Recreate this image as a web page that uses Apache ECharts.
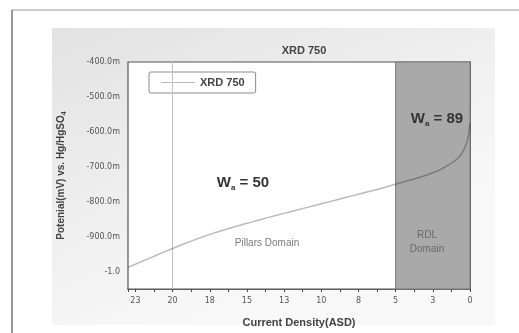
<!DOCTYPE html>
<html>
<head>
<meta charset="utf-8">
<script src="https://cdn.jsdelivr.net/npm/echarts@6/dist/echarts.min.js"></script>
<style>
html,body{margin:0;padding:0;background:#fff;}
#chart{width:519px;height:333px;}
</style>
</head>
<body>
<div id="chart"></div>
<script>
// ---- data ----
const seriesName = 'XRD 750';
const currentDensity = [23, 22, 21, 20, 19, 18, 17, 16, 15, 14, 13, 12, 11, 10, 9, 8, 7, 6, 5, 4, 3, 2.5, 2, 1.5, 1, 0.7, 0.5, 0.3, 0.2, 0.1, 0.05, 0];
const potential = [-988, -970, -952, -934, -917, -901, -887, -874, -862, -850, -839, -828, -817, -806, -795, -784, -773, -762, -750, -738, -725, -717, -708, -696, -682, -670, -658, -640, -627, -610, -596, -575];
const rdlDomain = [5, 0];
const referenceLineX = 20;

const chart = echarts.init(document.getElementById('chart'), null, {renderer: 'canvas'});
const lineData = currentDensity.map((x, i) => [x, potential[i]]);
const font = 'DejaVu Sans';
const lineColor = 'rgba(0,0,0,0.27)';

chart.setOption({
  animation: false,
  backgroundColor: '#ffffff',
  title: {
    text: 'XRD 750',
    left: 299, top: 40, textAlign: 'center',
    textStyle: {fontFamily: 'Liberation Sans', fontSize: 11, fontWeight: 'bold', color: '#444'}
  },
  legend: {
    data: [{name: seriesName, icon: 'rect'}],
    left: 149, top: 72,
    padding: [5, 11, 5, 12],
    itemWidth: 34, itemHeight: 1.2, itemGap: 5,
    backgroundColor: '#ffffff',
    borderColor: '#8a8a8a', borderWidth: 1, borderRadius: 2,
    textStyle: {fontFamily: 'Liberation Sans', fontSize: 11, fontWeight: 'bold', color: '#444'}
  },
  grid: {
    left: 128, right: 49, top: 62, bottom: 44,
    show: true, backgroundColor: '#ffffff', borderColor: '#555', borderWidth: 1.2, z: 1
  },
  graphic: [
    {type: 'rect', z: -10, shape: {x: 52, y: 28, width: 443, height: 297},
     style: {fill: new echarts.graphic.LinearGradient(0, 0, 0.3, 1, [
       {offset: 0, color: '#e2e2e2'}, {offset: 1, color: '#f8f8f8'}])}},
    {type: 'line', z: -5, shape: {x1: 12, y1: 10, x2: 519, y2: 10}, style: {stroke: '#9a9a9a', lineWidth: 1}},
    {type: 'line', z: -5, shape: {x1: 12, y1: 10, x2: 12, y2: 333}, style: {stroke: '#777', lineWidth: 1.5}},
    {type: 'text', z: 100, x: 243, y: 183,
     style: {text: '{b|W}{s|a}{b| = 50}', textAlign: 'center', textVerticalAlign: 'middle',
       rich: {b: {fontFamily: 'Liberation Sans', fontSize: 15, fontWeight: 'bold', fill: '#333', color: '#333'},
              s: {fontFamily: 'Liberation Sans', fontSize: 8, fontWeight: 'bold', fill: '#333', color: '#333', padding: [10, 0, 0, 0]}}}},
    {type: 'text', z: 100, x: 437, y: 119,
     style: {text: '{b|W}{s|a}{b| = 89}', textAlign: 'center', textVerticalAlign: 'middle',
       rich: {b: {fontFamily: 'Liberation Sans', fontSize: 15, fontWeight: 'bold', fill: '#333', color: '#333'},
              s: {fontFamily: 'Liberation Sans', fontSize: 8, fontWeight: 'bold', fill: '#333', color: '#333', padding: [10, 0, 0, 0]}}}},
    {type: 'text', z: 100, x: 267, y: 243,
     style: {text: 'Pillars Domain', textAlign: 'center', textVerticalAlign: 'middle',
       fontFamily: 'Liberation Sans Narrow, Liberation Sans', fontSize: 10, fill: '#7a7a7a'}},
    {type: 'text', z: 100, x: 427, y: 242,
     style: {text: 'RDL\nDomain', textAlign: 'center', textVerticalAlign: 'middle', lineHeight: 14,
       fontFamily: 'Liberation Sans Narrow, Liberation Sans', fontSize: 10, fill: '#6a6a6a'}}
  ],
  xAxis: {
    type: 'value', inverse: true, min: 0, max: 23, interval: 2.5,
    name: 'Current Density(ASD)', nameLocation: 'middle', nameGap: 28,
    nameTextStyle: {fontFamily: 'Liberation Sans', fontSize: 11, fontWeight: 'bold', color: '#444'},
    axisLine: {lineStyle: {color: '#444', width: 1.5}},
    axisTick: {show: true, length: 3, lineStyle: {color: '#444'}},
    minorTick: {show: true, splitNumber: 2, length: 3, lineStyle: {color: '#444'}},
    splitLine: {show: false},
    axisLabel: {showMaxLabel: false, margin: 8, fontFamily: font, fontSize: 8, color: '#555',
      formatter: v => String(Math.round(v))}
  },
  yAxis: {
    type: 'value', min: -1050, max: -400, interval: 50,
    name: 'Potenial(mV) vs. Hg/HgSO{sub|4}', nameLocation: 'middle', nameGap: 60,
    nameTextStyle: {fontFamily: 'Liberation Sans', fontSize: 10, fontWeight: 'bold', color: '#444',
      rich: {sub: {fontFamily: 'Liberation Sans', fontSize: 7, fontWeight: 'bold', color: '#444', padding: [6, 0, 0, 0]}}},
    axisLine: {lineStyle: {color: '#444', width: 1.5}},
    axisTick: {show: true, length: 4, lineStyle: {color: '#444'}},
    splitLine: {show: false},
    axisLabel: {margin: 8, fontFamily: font, fontSize: 8, color: '#555',
      formatter: v => (v % 100 !== 0) ? '' : (v === -1000 ? '-1.0' : v.toFixed(1) + 'm')}
  },
  series: [{
    name: seriesName, type: 'line', data: lineData, smooth: true,
    symbol: 'none', z: 5,
    lineStyle: {color: lineColor, width: 1.5},
    itemStyle: {color: lineColor},
    markArea: {silent: true,
      itemStyle: {color: '#a9a9a9', borderColor: '#7a7a7a', borderWidth: 1},
      data: [[{xAxis: rdlDomain[0]}, {xAxis: rdlDomain[1]}]]},
    markLine: {silent: true, symbol: 'none', label: {show: false},
      lineStyle: {color: '#c4c4c4', width: 1, type: 'solid'},
      data: [{xAxis: referenceLineX}]}
  }]
});
</script>
</body>
</html>
